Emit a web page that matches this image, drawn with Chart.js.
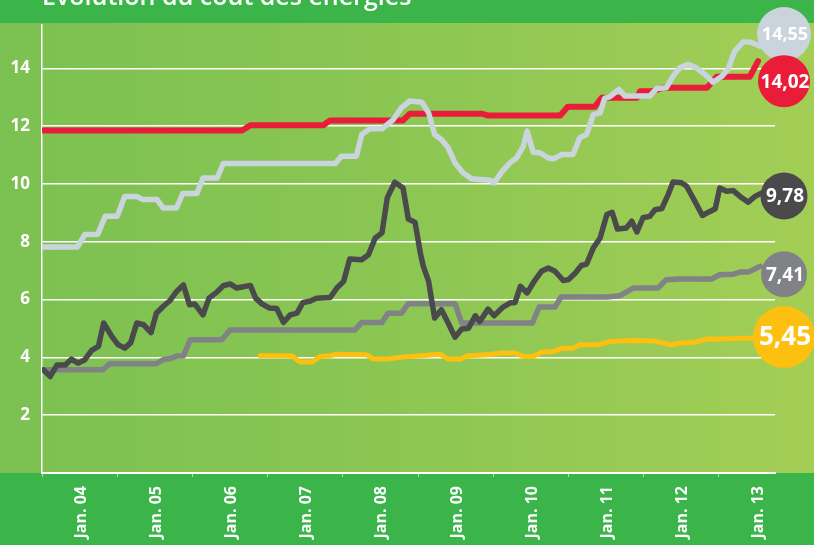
<!DOCTYPE html>
<html>
<head>
<meta charset="utf-8">
<script src="https://cdn.jsdelivr.net/npm/chart.js@4.4.1/dist/chart.umd.min.js"></script>
<style>
  html, body { margin: 0; padding: 0; background: #3bb54a; }
  #wrap { width: 814px; height: 545px; }
</style>
</head>
<body>
<div id="wrap"><canvas id="energies" width="814" height="545"></canvas></div>
<script>
// Titre (coupé en haut dans l'original)
const titre = 'Évolution du coût des énergies';

// Axe X : années (ticks) et leurs libellés
const anneesTicks = [2004, 2005, 2006, 2007, 2008, 2009, 2010, 2011, 2012, 2013];
const etiquettesX = ['Jan. 04', 'Jan. 05', 'Jan. 06', 'Jan. 07', 'Jan. 08', 'Jan. 09', 'Jan. 10', 'Jan. 11', 'Jan. 12', 'Jan. 13'];
const debutX = 2004;
const finX = 2013.745;

// Axe Y
const ticksY = [0, 2, 4, 6, 8, 10, 12, 14];
const maxY = 15.5;

// Série gris clair (14,55)
const grisClairX = [2004.01, 2004.47, 2004.57, 2004.74, 2004.84, 2005.00, 2005.10, 2005.26, 2005.34, 2005.53, 2005.61, 2005.79, 2005.87, 2006.06, 2006.14, 2006.33, 2006.41, 2007.90, 2007.98, 2008.18, 2008.25, 2008.36, 2008.52, 2008.67, 2008.78, 2008.89, 2009.05, 2009.14, 2009.22, 2009.31, 2009.40, 2009.49, 2009.60, 2009.71, 2009.96, 2010.01, 2010.11, 2010.22, 2010.31, 2010.40, 2010.45, 2010.53, 2010.62, 2010.73, 2010.80, 2010.91, 2011.06, 2011.15, 2011.24, 2011.33, 2011.42, 2011.48, 2011.55, 2011.67, 2011.75, 2012.08, 2012.17, 2012.30, 2012.39, 2012.48, 2012.59, 2012.70, 2012.84, 2012.92, 2013.04, 2013.12, 2013.21, 2013.32, 2013.41, 2013.55];
const grisClairY = [7.82, 7.82, 8.25, 8.25, 8.88, 8.88, 9.57, 9.57, 9.46, 9.46, 9.17, 9.17, 9.67, 9.67, 10.21, 10.21, 10.71, 10.71, 10.96, 10.96, 11.71, 11.91, 11.91, 12.23, 12.64, 12.87, 12.83, 12.46, 11.71, 11.54, 11.25, 10.73, 10.38, 10.18, 10.13, 10.04, 10.41, 10.73, 10.90, 11.31, 11.83, 11.10, 11.08, 10.90, 10.87, 11.02, 11.02, 11.60, 11.71, 12.40, 12.46, 12.96, 13.02, 13.27, 13.04, 13.04, 13.30, 13.33, 13.73, 14.02, 14.14, 14.02, 13.73, 13.52, 13.73, 13.96, 14.60, 14.91, 14.91, 14.77];

// Série noire (9,78)
const noirX = [2004.02, 2004.11, 2004.20, 2004.31, 2004.39, 2004.48, 2004.57, 2004.66, 2004.75, 2004.82, 2004.93, 2005.01, 2005.10, 2005.18, 2005.26, 2005.35, 2005.45, 2005.52, 2005.61, 2005.70, 2005.79, 2005.88, 2005.96, 2006.03, 2006.14, 2006.22, 2006.32, 2006.41, 2006.50, 2006.59, 2006.77, 2006.84, 2006.92, 2007.02, 2007.12, 2007.21, 2007.30, 2007.39, 2007.47, 2007.56, 2007.65, 2007.83, 2007.92, 2008.01, 2008.09, 2008.25, 2008.34, 2008.43, 2008.52, 2008.59, 2008.69, 2008.80, 2008.87, 2008.96, 2009.03, 2009.07, 2009.14, 2009.18, 2009.22, 2009.31, 2009.40, 2009.49, 2009.58, 2009.67, 2009.76, 2009.82, 2009.93, 2010.01, 2010.13, 2010.22, 2010.29, 2010.36, 2010.45, 2010.55, 2010.64, 2010.73, 2010.82, 2010.93, 2011.00, 2011.09, 2011.17, 2011.24, 2011.33, 2011.42, 2011.51, 2011.58, 2011.65, 2011.77, 2011.84, 2011.91, 2011.99, 2012.08, 2012.15, 2012.24, 2012.33, 2012.39, 2012.50, 2012.57, 2012.68, 2012.78, 2012.88, 2012.95, 2013.01, 2013.10, 2013.19, 2013.28, 2013.39, 2013.48, 2013.57];
const noirY = [3.57, 3.34, 3.74, 3.74, 3.94, 3.80, 3.92, 4.24, 4.38, 5.19, 4.72, 4.44, 4.32, 4.51, 5.19, 5.13, 4.86, 5.53, 5.76, 5.96, 6.28, 6.51, 5.82, 5.85, 5.47, 6.05, 6.25, 6.48, 6.54, 6.40, 6.49, 6.05, 5.86, 5.71, 5.69, 5.21, 5.47, 5.53, 5.90, 5.94, 6.05, 6.07, 6.40, 6.63, 7.40, 7.38, 7.55, 8.13, 8.31, 9.52, 10.06, 9.86, 8.79, 8.67, 7.61, 7.15, 6.63, 5.99, 5.36, 5.65, 5.19, 4.70, 4.98, 5.01, 5.44, 5.24, 5.67, 5.44, 5.74, 5.88, 5.90, 6.46, 6.23, 6.66, 6.98, 7.09, 6.98, 6.66, 6.69, 6.92, 7.18, 7.23, 7.79, 8.13, 8.94, 9.02, 8.44, 8.48, 8.71, 8.34, 8.83, 8.88, 9.11, 9.15, 9.67, 10.07, 10.04, 9.92, 9.40, 8.91, 9.05, 9.14, 9.86, 9.75, 9.77, 9.57, 9.37, 9.57, 9.69];

// Série rouge (14,02)
const rougeX = [2004.01, 2006.66, 2006.77, 2007.74, 2007.83, 2008.80, 2008.89, 2009.85, 2009.92, 2010.89, 2010.99, 2011.35, 2011.44, 2011.91, 2011.95, 2012.12, 2012.26, 2012.84, 2012.97, 2013.41, 2013.52];
const rougeY = [11.85, 11.85, 12.03, 12.03, 12.20, 12.20, 12.43, 12.43, 12.37, 12.37, 12.67, 12.67, 12.98, 12.98, 13.21, 13.21, 13.33, 13.33, 13.71, 13.71, 14.25];

// Série gris (7,41)
const grisX = [2004.02, 2004.81, 2004.90, 2005.52, 2005.61, 2005.72, 2005.79, 2005.88, 2005.97, 2006.39, 2006.50, 2008.16, 2008.25, 2008.52, 2008.60, 2008.78, 2008.87, 2009.49, 2009.58, 2010.52, 2010.61, 2010.82, 2010.90, 2011.51, 2011.68, 2011.86, 2012.19, 2012.30, 2012.48, 2012.90, 2013.01, 2013.19, 2013.28, 2013.39, 2013.55];
const grisY = [3.57, 3.57, 3.78, 3.78, 3.92, 3.97, 4.05, 4.05, 4.61, 4.61, 4.95, 4.95, 5.21, 5.21, 5.53, 5.53, 5.86, 5.86, 5.19, 5.19, 5.74, 5.74, 6.09, 6.09, 6.13, 6.40, 6.40, 6.69, 6.71, 6.71, 6.86, 6.88, 6.95, 6.95, 7.15];

// Série jaune (5,45)
const jauneX = [2006.90, 2007.32, 2007.43, 2007.59, 2007.70, 2007.83, 2007.92, 2008.32, 2008.40, 2008.58, 2008.80, 2008.98, 2009.29, 2009.40, 2009.56, 2009.65, 2009.91, 2010.13, 2010.29, 2010.40, 2010.53, 2010.64, 2010.80, 2010.91, 2011.06, 2011.15, 2011.40, 2011.55, 2011.86, 2012.13, 2012.35, 2012.48, 2012.70, 2012.84, 2013.01, 2013.48];
const jauneY = [4.06, 4.06, 3.84, 3.84, 4.03, 4.06, 4.11, 4.09, 3.95, 3.94, 4.01, 4.05, 4.11, 3.94, 3.94, 4.05, 4.09, 4.15, 4.15, 4.03, 4.03, 4.18, 4.20, 4.32, 4.32, 4.44, 4.44, 4.55, 4.58, 4.57, 4.44, 4.49, 4.53, 4.64, 4.64, 4.67];

// Valeurs affichées dans les pastilles en bout de courbe
const valeursFinales = ['14,55', '9,78', '14,02', '7,41', '5,45'];

// Styles (couleurs, pastilles)
const couleurs = ['#c9d4dd', '#4a494c', '#e91d3a', '#818285', '#fdc010'];
const epaisseurs = [5.5, 5.5, 6, 5.5, 5];
const decalPastille = [-12, 3, 20, 8, -1];
const rayonPastille = [27, 23.5, 26, 23, 31];
const policePastille = [18, 19, 19, 19, 26];

function points(xs, ys) {
    return xs.map((x, i) => ({ x: x, y: ys[i] }));
}

const series = [
    points(grisClairX, grisClairY),
    points(noirX, noirY),
    points(rougeX, rougeY),
    points(grisX, grisY),
    points(jauneX, jauneY)
];

// Fond, titre et pastilles
const decor = {
    id: 'decor',
    beforeDraw(chart) {
        const { ctx, width, height, chartArea } = chart;
        ctx.save();
        ctx.fillStyle = '#3bb54a';
        ctx.fillRect(0, 0, width, height);
        const g = ctx.createLinearGradient(0, 0, width, 0);
        g.addColorStop(0, '#7bc151');
        g.addColorStop(0.5, '#8cc653');
        g.addColorStop(1, '#a3ce56');
        ctx.fillStyle = g;
        ctx.fillRect(0, chartArea.top - 2, width, chartArea.bottom - chartArea.top + 2);
        ctx.restore();
    },
    afterDraw(chart) {
        const { ctx, chartArea } = chart;
        ctx.save();
        ctx.fillStyle = '#ffffff';
        ctx.font = '600 25px "Open Sans"';
        ctx.textAlign = 'left';
        ctx.textBaseline = 'alphabetic';
        ctx.fillText(titre, chartArea.left, 5);

        chart.data.datasets.forEach((ds, i) => {
            const meta = chart.getDatasetMeta(i);
            const dernier = meta.data[meta.data.length - 1];
            const cx = chartArea.right + 9;
            const cy = dernier.y + decalPastille[i];
            ctx.beginPath();
            ctx.arc(cx, cy, rayonPastille[i], 0, Math.PI * 2);
            ctx.fillStyle = couleurs[i];
            ctx.fill();
            ctx.fillStyle = '#ffffff';
            ctx.font = 'bold ' + policePastille[i] + 'px "Open Sans"';
            ctx.textAlign = 'center';
            ctx.textBaseline = 'middle';
            ctx.fillText(valeursFinales[i], cx + 1, cy + 1);
        });
        ctx.restore();
    }
};

const ctx = document.getElementById('energies').getContext('2d');

new Chart(ctx, {
    type: 'line',
    data: {
        datasets: series.map((data, i) => ({
            data: data,
            borderColor: couleurs[i],
            borderWidth: epaisseurs[i],
            borderJoinStyle: 'round',
            borderCapStyle: 'round',
            pointRadius: 0,
            tension: 0,
            fill: false
        }))
    },
    options: {
        responsive: false,
        devicePixelRatio: 1,
        animation: false,
        layout: { padding: { top: 25, right: 39, left: 0, bottom: 0 } },
        plugins: {
            legend: { display: false },
            title: { display: false },
            tooltip: { enabled: false }
        },
        scales: {
            x: {
                type: 'linear',
                min: debutX,
                max: finX,
                afterBuildTicks: s => { s.ticks = anneesTicks.map(v => ({ value: v })); },
                afterFit: s => { s.height = 72; },
                grid: {
                    drawOnChartArea: false,
                    drawTicks: true,
                    tickLength: 4,
                    color: 'rgba(255,255,255,0.55)',
                    lineWidth: 1
                },
                border: { color: '#ffffff', width: 2 },
                ticks: {
                    autoSkip: false,
                    maxRotation: 90,
                    minRotation: 90,
                    padding: 9,
                    labelOffset: 39,
                    color: '#ffffff',
                    font: { family: '"Open Sans"', size: 16, weight: 'bold' },
                    callback: (v, i) => etiquettesX[i]
                }
            },
            y: {
                min: 0,
                max: maxY,
                afterBuildTicks: s => { s.ticks = ticksY.map(v => ({ value: v })); },
                afterFit: s => { s.width = 42; },
                grid: {
                    color: '#ffffff',
                    lineWidth: 1.5,
                    drawTicks: false
                },
                border: { color: '#ffffff', width: 1.5 },
                ticks: {
                    padding: 12,
                    color: '#ffffff',
                    font: { family: '"Open Sans"', size: 17, weight: 'bold' },
                    callback: v => (v === 0 ? '' : v)
                }
            }
        }
    },
    plugins: [decor]
});
</script>
</body>
</html>
